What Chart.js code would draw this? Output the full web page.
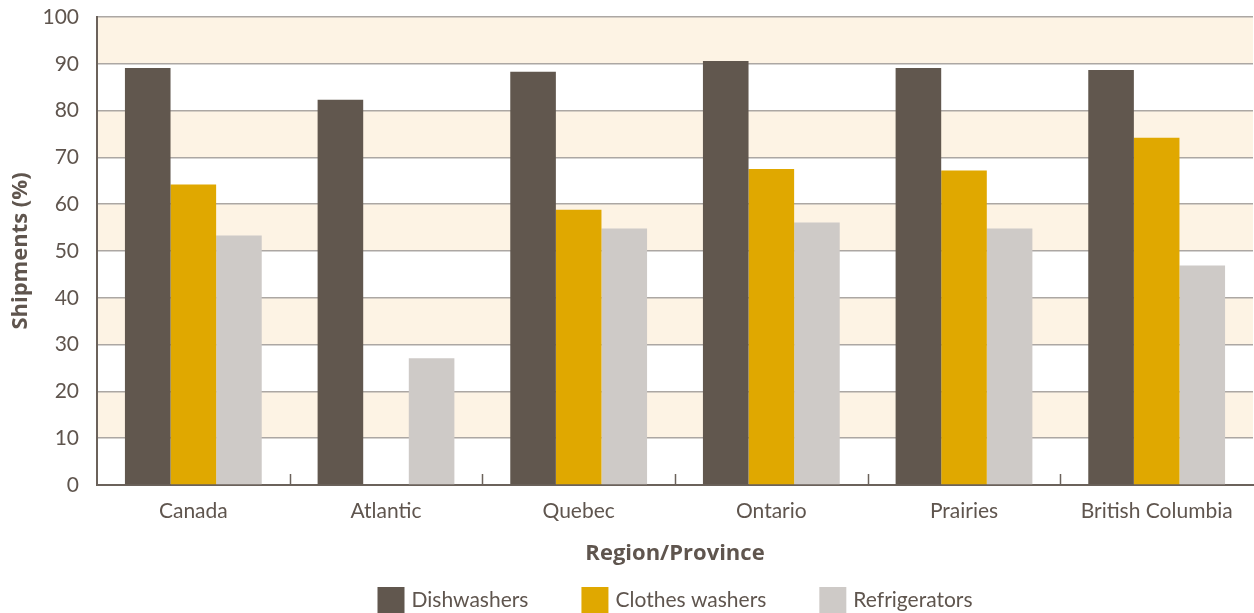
<!DOCTYPE html>
<html>
<head>
<meta charset="utf-8">
<script src="https://cdn.jsdelivr.net/npm/chart.js@4"></script>
<style>
  html, body { margin: 0; padding: 0; background: #ffffff; }
  #wrap { width: 1254px; height: 613px; }
</style>
</head>
<body>
<div id="wrap"><canvas id="shipments"></canvas></div>
<script>
// Share of shipments by region, per appliance
const regions = ['Canada', 'Atlantic', 'Quebec', 'Ontario', 'Prairies', 'British Columbia'];
const dishwashers = [89.1, 82.3, 88.3, 90.6, 89.1, 88.7];
const clothesWashers = [64.2, null, 58.8, 67.5, 67.2, 74.2];
const refrigerators = [53.3, 27.1, 54.8, 56.1, 54.8, 46.9];
const yTicks = [0, 10, 20, 30, 40, 50, 60, 70, 80, 90, 100];

const textColor = '#5f554e';
const axisColor = '#6b625b';
const bodyFont = 'Lato, "Open Sans", sans-serif';
const titleFont = '"Open Sans", Lato, sans-serif';

// cream bands behind every other 10% step
const bandPlugin = {
  id: 'bands',
  beforeDraw(chart) {
    const { ctx, chartArea } = chart;
    const y = chart.scales.y;
    ctx.save();
    ctx.fillStyle = '#fdf3e4';
    for (let v = 10; v < 100; v += 20) {
      const top = y.getPixelForValue(v + 10);
      const bottom = y.getPixelForValue(v);
      ctx.fillRect(chartArea.left, top, chartArea.right - chartArea.left, bottom - top);
    }
    ctx.restore();
  }
};

// short separators between the groups, pointing up from the baseline
const separatorPlugin = {
  id: 'separators',
  afterDraw(chart) {
    const { ctx, chartArea } = chart;
    const x = chart.scales.x;
    ctx.save();
    ctx.strokeStyle = axisColor;
    ctx.lineWidth = 1.5;
    for (let i = 1; i < regions.length; i++) {
      const px = Math.round((x.getPixelForValue(i - 1) + x.getPixelForValue(i)) / 2) + 0.5;
      ctx.beginPath();
      ctx.moveTo(px, chartArea.bottom);
      ctx.lineTo(px, chartArea.bottom - 11);
      ctx.stroke();
    }
    ctx.restore();
  }
};

// one-row legend under the axis title, centred on the plot
const legendRowPlugin = {
  id: 'legendRow',
  afterDraw(chart) {
    const { ctx, chartArea } = chart;
    const box = 27, gap = 7, spacing = 53, boxTop = 587;
    ctx.save();
    ctx.font = '21px ' + bodyFont;
    ctx.textBaseline = 'middle';
    const items = chart.data.datasets.map(ds => ({
      text: ds.label,
      color: ds.backgroundColor,
      width: box + gap + ctx.measureText(ds.label).width
    }));
    const total = items.reduce((s, it) => s + it.width, 0) + spacing * (items.length - 1);
    let x = (chartArea.left + chartArea.right) / 2 - total / 2;
    items.forEach(it => {
      ctx.fillStyle = it.color;
      ctx.fillRect(x, boxTop, box, box);
      ctx.fillStyle = textColor;
      ctx.fillText(it.text, x + box + gap, 600);
      x += it.width + spacing;
    });
    ctx.restore();
  }
};

Chart.defaults.font.family = bodyFont;
Chart.defaults.color = textColor;

new Chart(document.getElementById('shipments'), {
  type: 'bar',
  data: {
    labels: regions,
    datasets: [
      { label: 'Dishwashers', data: dishwashers, backgroundColor: '#61574e' },
      { label: 'Clothes washers', data: clothesWashers, backgroundColor: '#e0a800' },
      { label: 'Refrigerators', data: refrigerators, backgroundColor: '#cecac7' }
    ]
  },
  plugins: [bandPlugin, separatorPlugin, legendRowPlugin],
  options: {
    responsive: true,
    maintainAspectRatio: false,
    animation: false,
    datasets: {
      bar: { categoryPercentage: 0.71, barPercentage: 1.0, borderWidth: 0 }
    },
    layout: { padding: { top: 17, right: 1, left: 0, bottom: 43 } },
    plugins: {
      tooltip: { enabled: false },
      legend: { display: false }
    },
    scales: {
      x: {
        grid: { display: false, drawTicks: false },
        border: { display: true, color: axisColor, width: 2 },
        ticks: { padding: 14, color: textColor, font: { size: 21 } },
        title: {
          display: true,
          text: 'Region/Province',
          color: textColor,
          font: { family: titleFont, size: 22, weight: 'bold' },
          padding: { top: 10, bottom: 3 }
        },
        afterFit(scale) { scale.height = 85; }
      },
      y: {
        min: 0,
        max: 100,
        afterBuildTicks(scale) { scale.ticks = yTicks.map(v => ({ value: v })); },
        grid: { color: '#aca7a3', lineWidth: 1.5, drawTicks: false },
        border: { display: true, color: axisColor, width: 2 },
        ticks: { padding: 18, color: textColor, font: { size: 21 } },
        title: {
          display: true,
          text: 'Shipments (%)',
          color: textColor,
          font: { family: titleFont, size: 22, weight: 'bold' },
          padding: { top: 8, bottom: 6 }
        },
        afterFit(scale) {
          scale.width = 97;
          scale.paddingTop = 0;
          scale.paddingBottom = 0;
        }
      }
    }
  }
});
</script>
</body>
</html>
